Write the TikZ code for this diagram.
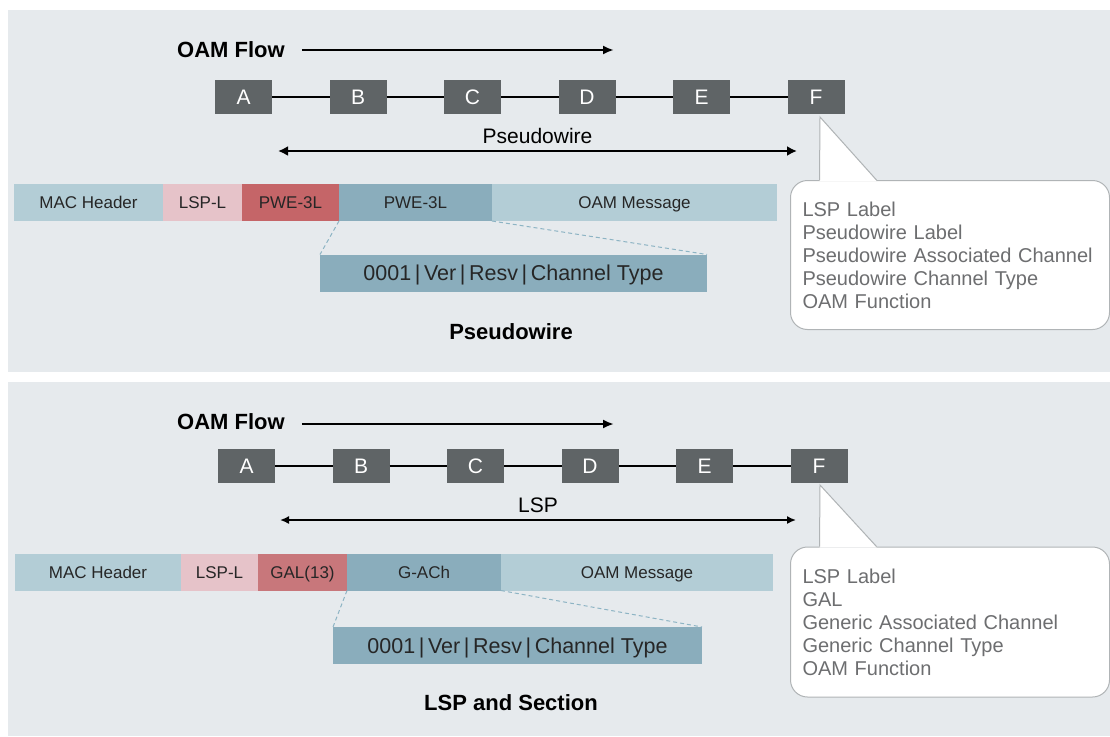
\documentclass[tikz,border=0pt]{standalone}
\usepackage{fontspec}
\setmainfont{Liberation Sans}
\usepackage{xcolor}
\usetikzlibrary{positioning}
\usetikzlibrary{arrows.meta}

\definecolor{panelbg}{HTML}{E6EAED}
\definecolor{stationgray}{HTML}{5F6466}
\definecolor{macblue}{HTML}{B3CDD6}
\definecolor{lsppink}{HTML}{E6C3C9}
\definecolor{pwered}{HTML}{C56568}
\definecolor{galred}{HTML}{C8777B}
\definecolor{achblue}{HTML}{8AADBC}
\definecolor{dashblue}{HTML}{8DB4C4}
\definecolor{notegray}{HTML}{6D6E70}
\definecolor{noteedge}{HTML}{B0B4B6}

\tikzset{
  station/.style={fill=stationgray, text=white, minimum width=57pt, minimum height=34pt,
    inner sep=0pt, outer sep=0pt, text height=15pt, text depth=0pt,
    font=\fontsize{21}{24}\selectfont},
  field/.style={minimum height=37pt, inner sep=0pt, outer sep=0pt, text=black!85,
    text height=12pt, text depth=0pt, font=\fontsize{17}{20}\selectfont},
  chanhdr/.style={fill=achblue, minimum height=37pt, inner sep=0pt, outer sep=0pt,
    text=black!85, text height=15.4pt, text depth=0pt,
    font=\fontsize{21.5}{24}\selectfont},
  flowlabel/.style={inner sep=0pt, font=\fontsize{22}{26}\selectfont\bfseries},
  caption/.style={inner sep=0pt, font=\fontsize{22}{26}\selectfont\bfseries},
  note/.style={fill=white, draw=noteedge, line width=1pt, rounded corners=17pt,
    text=notegray, align=left, text width=295pt, inner sep=12pt, minimum height=149pt,
    font=\fontsize{20}{23}\selectfont},
  link/.style={line width=1.3pt},
  flowarrow/.style={-{Latex[length=11pt,width=9pt]}, line width=2.2pt},
  spanarrow/.style={{Latex[length=10pt,width=10pt]}-{Latex[length=10pt,width=10pt]}, line width=2pt},
  zoomline/.style={dashblue, line width=1pt, dash pattern=on 4pt off 3pt}
}

\begin{document}
\begin{tikzpicture}[x=1pt,y=-1pt]
  \useasboundingbox (0,0) rectangle (1110,736);

  % top panel: pseudowire
  \fill[panelbg] (8,10) rectangle (1110,372);
  \node[flowlabel] (flow1) at (231,50) {OAM Flow};
  \coordinate (flowend1) at (614,50);
  \draw[flowarrow, shorten <=17pt] (flow1.east) -- (flowend1);

  \node[station] (a1) at (243.5,97) {A};
  \node[station, right=57.5pt of a1] (b1) {B};
  \node[station, right=57.5pt of b1] (c1) {C};
  \node[station, right=57.5pt of c1] (d1) {D};
  \node[station, right=57.5pt of d1] (e1) {E};
  \node[station, right=57.5pt of e1] (f1) {F};
  \draw[link] (a1) -- (b1) (b1) -- (c1) (c1) -- (d1) (d1) -- (e1) (e1) -- (f1);

  \coordinate (pwl) at (278,151);
  \coordinate (pwr) at (797,151);
  \draw[spanarrow] (pwl) -- node[above=3pt, font=\fontsize{21}{24}\selectfont] (pwtext) {Pseudowire} (pwr);

  \node[field, fill=macblue, minimum width=149pt] (mac1) at (88.5,202.5) {MAC Header};
  \node[field, fill=lsppink, minimum width=79pt, right=0pt of mac1] (lsp1) {LSP-L};
  \node[field, fill=pwered, minimum width=97pt, right=0pt of lsp1] (pwe1) {PWE-3L};
  \node[field, fill=achblue, minimum width=153pt, right=0pt of pwe1] (ach1) {PWE-3L};
  \node[field, fill=macblue, minimum width=285pt, right=0pt of ach1] (oam1) {OAM Message};

  \node[chanhdr, minimum width=387pt] (hdr1) at (513.5,273)
    {0001\,|\,Ver\,|\,Resv\,|\,Channel Type};
  \draw[zoomline] (ach1.south west) -- (hdr1.north west);
  \draw[zoomline] (ach1.south east) -- (hdr1.north east);

  \node[caption] (cap1) at (511,332) {Pseudowire};

  \node[note] (note1) at (950,255) {LSP Label\\Pseudowire Label\\Pseudowire Associated Channel\\Pseudowire Channel Type\\OAM Function};
  \coordinate (tip1) at (820,117);
  \fill[white] ([xshift=29.5pt,yshift=-1pt]note1.north west) -- (tip1) -- ([xshift=86.5pt,yshift=-1pt]note1.north west) -- cycle;
  \draw[noteedge, line width=1pt] ([xshift=29.5pt]note1.north west) -- (tip1) -- ([xshift=86.5pt]note1.north west);

  % bottom panel: LSP and section
  \fill[panelbg] (8,382) rectangle (1110,736);
  \node[flowlabel] (flow2) at (231,422) {OAM Flow};
  \coordinate (flowend2) at (614,424);
  \draw[flowarrow, shorten <=17pt] (flow2.east |- flowend2) -- (flowend2);

  \node[station] (a2) at (246.5,466) {A};
  \node[station, right=57.5pt of a2] (b2) {B};
  \node[station, right=57.5pt of b2] (c2) {C};
  \node[station, right=57.5pt of c2] (d2) {D};
  \node[station, right=57.5pt of d2] (e2) {E};
  \node[station, right=57.5pt of e2] (f2) {F};
  \draw[link] (a2) -- (b2) (b2) -- (c2) (c2) -- (d2) (d2) -- (e2) (e2) -- (f2);

  \coordinate (lspl) at (280,520);
  \coordinate (lspr) at (796,520);
  \draw[{Latex[length=9pt,width=8pt]}-{Latex[length=9pt,width=8pt]}, line width=1.6pt] (lspl) -- node[above=3pt, font=\fontsize{21}{24}\selectfont] (lsptext) {LSP} (lspr);

  \node[field, fill=macblue, minimum width=166pt] (mac2) at (98,572) {MAC Header};
  \node[field, fill=lsppink, minimum width=77pt, right=0pt of mac2] (lsp2) {LSP-L};
  \node[field, fill=galred, minimum width=89pt, right=0pt of lsp2] (gal2) {GAL(13)};
  \node[field, fill=achblue, minimum width=154pt, right=0pt of gal2] (ach2) {G-ACh};
  \node[field, fill=macblue, minimum width=272pt, right=0pt of ach2] (oam2) {OAM Message};

  \node[chanhdr, minimum width=369pt] (hdr2) at (517.5,645.5)
    {0001\,|\,Ver\,|\,Resv\,|\,Channel Type};
  \draw[zoomline] (ach2.south west) -- (hdr2.north west);
  \draw[zoomline] (ach2.south east) -- (hdr2.north east);

  \node[caption] (cap2) at (511,703) {LSP and Section};

  \node[note, minimum height=150pt] (note2) at (950,622) {LSP Label\\GAL\\Generic Associated Channel\\Generic Channel Type\\OAM Function};
  \coordinate (tip2) at (820,485);
  \fill[white] ([xshift=29.5pt,yshift=-1pt]note2.north west) -- (tip2) -- ([xshift=86.5pt,yshift=-1pt]note2.north west) -- cycle;
  \draw[noteedge, line width=1pt] ([xshift=29.5pt]note2.north west) -- (tip2) -- ([xshift=86.5pt]note2.north west);
\end{tikzpicture}
\end{document}
